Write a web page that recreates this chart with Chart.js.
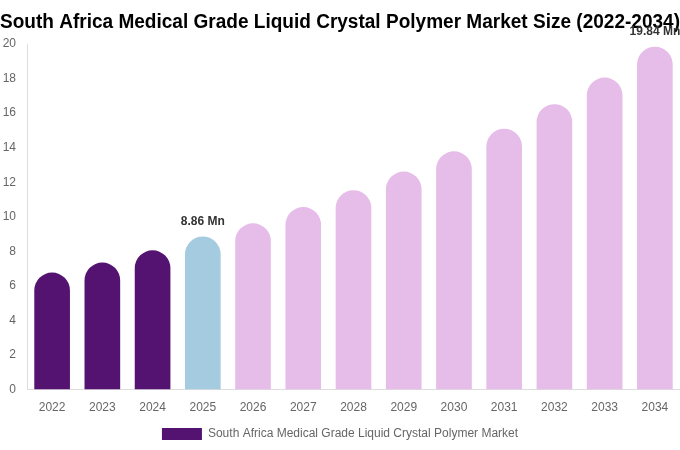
<!DOCTYPE html>
<html>
<head>
<meta charset="utf-8">
<script src="https://cdn.jsdelivr.net/npm/chart.js@4/dist/chart.umd.min.js"></script>
<style>
  html, body { margin: 0; padding: 0; background: #fff; }
  #wrap { width: 680px; height: 450px; }
</style>
</head>
<body>
<div id="wrap"><canvas id="myChartCanvas"></canvas></div>
<script>
const years = ['2022', '2023', '2024', '2025', '2026', '2027', '2028', '2029', '2030', '2031', '2032', '2033', '2034'];
const marketSize = [6.77, 7.35, 8.06, 8.86, 9.62, 10.56, 11.54, 12.62, 13.79, 15.10, 16.52, 18.06, 19.84];
const yTicks = [0, 2, 4, 6, 8, 10, 12, 14, 16, 18, 20];
const labelled = { '2025': '8.86 Mn', '2034': '19.84 Mn' };

const barColors = years.map(y => {
  if (y < '2025') return '#541371';
  if (y === '2025') return '#a4cbe0';
  return '#e6bce9';
});

// draws the "x Mn" text over the chosen bars
const valueLabels = {
  id: 'valueLabels',
  afterDatasetsDraw(chart) {
    const ctx = chart.ctx;
    const meta = chart.getDatasetMeta(0);
    ctx.save();
    ctx.font = 'bold 12px "Liberation Sans", Arial, sans-serif';
    ctx.fillStyle = '#333';
    ctx.textAlign = 'center';
    ctx.textBaseline = 'bottom';
    years.forEach((y, i) => {
      if (!labelled[y]) return;
      const bar = meta.data[i];
      ctx.fillText(labelled[y], bar.x, bar.y - 9);
    });
    ctx.restore();
  }
};

const data = {
  labels: years,
  datasets: [{
    label: 'South Africa Medical Grade Liquid Crystal Polymer Market',
    data: marketSize,
    backgroundColor: barColors,
    borderRadius: { topLeft: 18, topRight: 18 },
    borderSkipped: 'bottom',
    barPercentage: 0.71,
    categoryPercentage: 1.0
  }]
};

const config = {
  type: 'bar',
  data: data,
  plugins: [valueLabels],
  options: {
    responsive: true,
    maintainAspectRatio: false,
    animation: false,
    layout: { padding: { left: 0, right: 0, top: 0, bottom: 0 } },
    plugins: {
      title: {
        display: true,
        text: 'South Africa Medical Grade Liquid Crystal Polymer Market Size (2022-2034)',
        color: '#000',
        font: { family: '"Liberation Sans", Arial, sans-serif', size: 20, weight: 'bold' },
        padding: { top: 10, bottom: 10 }
      },
      legend: {
        position: 'bottom',
        labels: {
          color: '#666',
          padding: 2,
          font: { family: '"Liberation Sans", Arial, sans-serif', size: 12 },
          boxWidth: 40,
          boxHeight: 12,
          generateLabels: () => [{
            text: 'South Africa Medical Grade Liquid Crystal Polymer Market',
            fillStyle: '#541371',
            strokeStyle: '#541371',
            lineWidth: 0,
            fontColor: '#666'
          }]
        }
      },
      tooltip: { enabled: false }
    },
    scales: {
      x: {
        grid: { display: false, drawTicks: false },
        border: { color: '#ddd' },
        ticks: {
          color: '#666',
          padding: 11,
          font: { family: '"Liberation Sans", Arial, sans-serif', size: 12 }
        }
      },
      y: {
        min: 0,
        max: 20,
        afterBuildTicks: axis => { axis.ticks = yTicks.map(v => ({ value: v })); },
        afterFit: axis => { axis.width = 27; },
        grid: { display: false, drawTicks: false },
        border: { color: '#ddd' },
        ticks: {
          color: '#666',
          padding: 11,
          font: { family: '"Liberation Sans", Arial, sans-serif', size: 12 }
        }
      }
    }
  }
};

const canvasEl = document.getElementById('myChartCanvas');
const chart = new Chart(canvasEl, config);
</script>
</body>
</html>
